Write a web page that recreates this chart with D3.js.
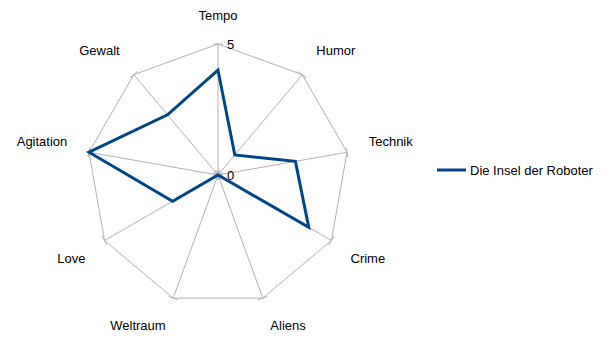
<!DOCTYPE html>
<html><head><meta charset="utf-8">
<script src="https://cdn.jsdelivr.net/npm/d3@7"></script>
<style>body{margin:0;background:#fff}svg{display:block}text{font-family:"Liberation Sans",Arial,sans-serif;font-size:13px;fill:#000}</style>
</head><body><svg id="c" width="605" height="341"></svg>
<script>
const categories = ["Tempo","Humor","Technik","Crime","Aliens","Weltraum","Love","Agitation","Gewalt"];
const seriesName = "Die Insel der Roboter";
const seriesValues = [4,1,3,4,0,0,2,5,3];
const tickValues = [0,5];

const svg = d3.select("#c");
const cx = 218, cy = 175, R = 131;
const r = d3.scaleLinear().domain([0,5]).range([0,R]);
const ang = d3.scaleLinear().domain([0,categories.length]).range([0,2*Math.PI]);
const pt = (i,v) => [cx + r(v)*Math.sin(ang(i)), cy - r(v)*Math.cos(ang(i))];
const grid = "#b3b3b3";

// spokes
categories.forEach((c,i)=>{
  const [x,y]=pt(i,5);
  svg.append("line").attr("x1",cx).attr("y1",cy).attr("x2",x).attr("y2",y).attr("stroke",grid).attr("stroke-width",1);
});
// outer polygon
svg.append("path").attr("d", d3.line()(categories.map((c,i)=>pt(i,5)))+"Z").attr("fill","none").attr("stroke",grid).attr("stroke-width",1);
// ticks
categories.forEach((c,i)=>{
  tickValues.forEach(v=>{
    const [x,y]=pt(i,v);
    const a=ang(i), px=Math.cos(a)*5, py=Math.sin(a)*5;
    svg.append("line").attr("x1",x-px).attr("y1",y-py).attr("x2",x+px).attr("y2",y+py).attr("stroke",grid).attr("stroke-width",1);
  });
});
// tick labels
tickValues.forEach(v=>{
  svg.append("text").attr("x",cx+9).attr("y",cy - r(v)).attr("dy","0.36em").text(v);
});
// category labels
categories.forEach((c,i)=>{
  const a=ang(i), ux=Math.sin(a), uy=-Math.cos(a);
  const [x,y]=pt(i,5);
  const g=22;
  const anchor = Math.abs(ux)<0.05 ? "middle" : (ux>0?"start":"end");
  const ly = y + uy*g + Math.sign(uy)*7;
  svg.append("text").attr("x",x+ux*g).attr("y",ly).attr("dy","0.36em").attr("text-anchor",anchor).text(c);
});
// series
svg.append("path").attr("d", d3.line()(seriesValues.map((v,i)=>pt(i,v)))+"Z")
  .attr("fill","none").attr("stroke","#004586").attr("stroke-width",3).attr("stroke-linejoin","miter");
// legend
svg.append("line").attr("x1",437).attr("x2",466).attr("y1",170).attr("y2",170).attr("stroke","#004586").attr("stroke-width",3);
svg.append("text").attr("x",470).attr("y",170).attr("dy","0.36em").text(seriesName);
</script></body></html>
